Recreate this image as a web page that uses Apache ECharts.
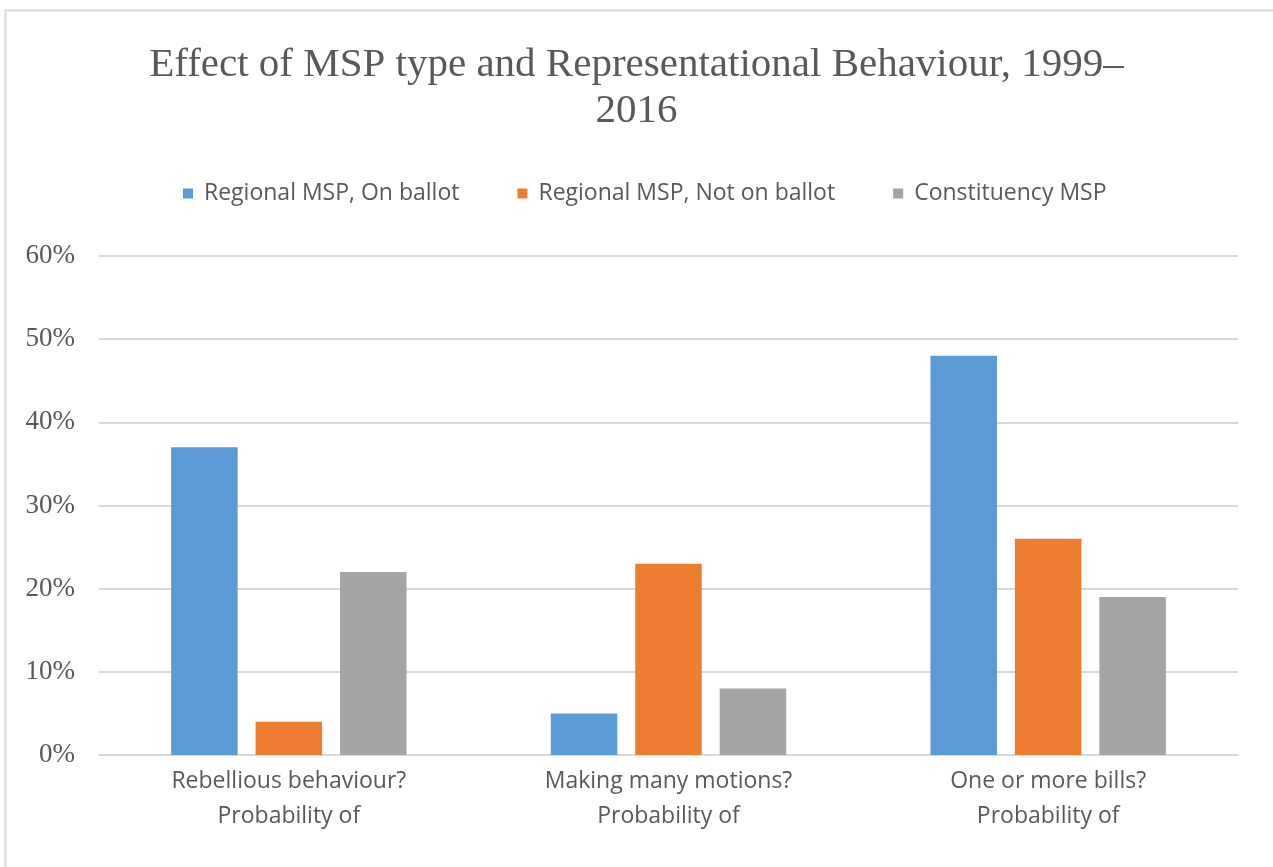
<!DOCTYPE html>
<html>
<head>
<meta charset="utf-8">
<script src="https://cdn.jsdelivr.net/npm/echarts@6/dist/echarts.min.js"></script>
<style>
html,body{margin:0;padding:0;background:#fff;}
#chart{width:1273px;height:867px;}
</style>
</head>
<body>
<div id="chart"></div>
<script>
const titleText = 'Effect of MSP type and Representational Behaviour, 1999–\n2016';
const categories = ['Rebellious behaviour?\nProbability of', 'Making many motions?\nProbability of', 'One or more bills?\nProbability of'];
const seriesNames = ['Regional MSP, On ballot', 'Regional MSP, Not on ballot', 'Constituency MSP'];
const onBallot = [37, 5, 48];
const notOnBallot = [4, 23, 26];
const constituency = [22, 8, 19];
const yTicks = [0, 10, 20, 30, 40, 50, 60];
const colors = ['#5B9BD5', '#ED7D31', '#A5A5A5'];

const chart = echarts.init(document.getElementById('chart'));
const values = [onBallot, notOnBallot, constituency];
chart.setOption({
  animation: false,
  backgroundColor: '#ffffff',
  graphic: [{
    type: 'rect', z: 0, silent: true,
    shape: { x: 5.5, y: 10.5, width: 1400, height: 1000 },
    style: { fill: 'none', stroke: '#D9D9D9', lineWidth: 2 }
  }],
  title: {
    text: titleText,
    left: 'center',
    top: 37,
    textStyle: {
      fontFamily: 'Liberation Serif',
      fontWeight: 'normal',
      fontSize: 41,
      color: '#595959',
      lineHeight: 46
    }
  },
  legend: {
    top: 177,
    left: 178,
    itemWidth: 10,
    itemHeight: 10,
    itemGap: 58,
    icon: 'rect',
    textStyle: { fontFamily: 'Open Sans', fontSize: 23, color: '#595959', padding: [0, 0, 0, 6] },
    data: seriesNames
  },
  grid: { left: 99, right: 35, top: 256, bottom: 112 },
  xAxis: {
    type: 'category',
    data: categories,
    axisTick: { show: false },
    axisLine: { lineStyle: { color: '#D9D9D9', width: 2 } },
    axisLabel: {
      fontFamily: 'Open Sans', fontSize: 23, color: '#595959',
      lineHeight: 35, margin: 9, interval: 0
    }
  },
  yAxis: {
    type: 'value',
    min: yTicks[0],
    max: yTicks[yTicks.length - 1],
    interval: 10,
    axisLine: { show: false },
    axisTick: { show: false },
    splitLine: { lineStyle: { color: '#D9D9D9', width: 2 } },
    axisLabel: {
      formatter: v => v + '%',
      fontFamily: 'Liberation Serif', fontSize: 27, color: '#595959', margin: 24
    }
  },
  series: seriesNames.map((name, i) => ({
    name: name,
    type: 'bar',
    data: values[i],
    barGap: '27%',
    barCategoryGap: '38%',
    itemStyle: { color: colors[i] }
  }))
});
</script>
</body>
</html>
